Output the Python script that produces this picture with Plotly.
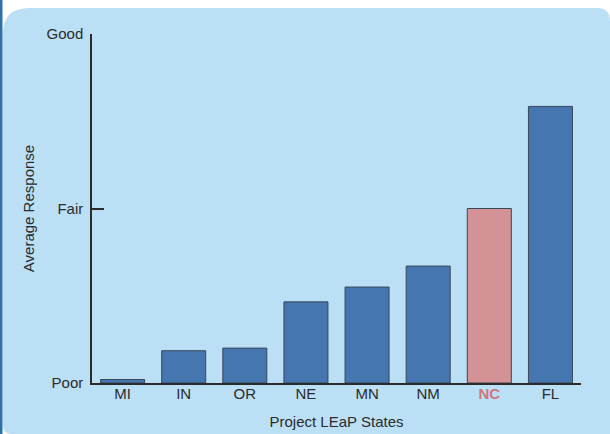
import plotly.graph_objects as go

states = ["MI", "IN", "OR", "NE", "MN", "NM", "NC", "FL"]
values = [0.02, 0.185, 0.2, 0.465, 0.55, 0.67, 1.0, 1.585]
tick_vals = [0, 1, 2]
tick_text = ["Poor", "Fair", "Good"]
highlight = "NC"

W, H = 610, 434
ml, mr, mt, mb = 92, 29, 34, 51
pw, ph = W - ml - mr, H - mt - mb

def px(x):
    return (x - ml) / pw

def py(y):
    return (H - mb - y) / ph

blue = "#4576b0"
pink = "#d39396"
panel = "#bbe0f6"
colors = [pink if s == highlight else blue for s in states]

fig = go.Figure(go.Bar(
    x=list(range(len(states))), y=values,
    marker=dict(color=colors, line=dict(color="#38475a", width=1)),
    width=0.72,
))

# White surround with rounded panel corners (panel colour = paper colour)
x0, y0 = 3, 8
rt, rb = 26, 9
top_white = (
    f"M {px(0)},{py(0)} L {px(W)},{py(0)} L {px(W)},{py(y0 + 13)} "
    f"Q {px(W)},{py(y0)} {px(597)},{py(y0)} "
    f"L {px(x0 + rt)},{py(y0)} "
    f"Q {px(x0)},{py(y0)} {px(x0)},{py(y0 + rt)} "
    f"L {px(x0)},{py(H)} L {px(0)},{py(H)} Z"
)
bottom_white = (
    f"M {px(x0)},{py(H - rb)} Q {px(x0)},{py(H)} {px(x0 + rb)},{py(H)} "
    f"L {px(x0)},{py(H)} Z"
)
shapes = [
    dict(type="path", xref="paper", yref="paper", path=top_white,
         fillcolor="white", line=dict(width=0), layer="below"),
    dict(type="path", xref="paper", yref="paper", path=bottom_white,
         fillcolor="white", line=dict(width=0), layer="below"),
    dict(type="rect", xref="paper", yref="paper", x0=px(0), x1=px(2.5),
         y0=py(0), y1=py(H), fillcolor="#2f6fae", line=dict(width=0), layer="below"),
]

FS = 15
TC = "#2b2b2b"
font = dict(family="Liberation Sans, Arial, sans-serif", size=FS, color=TC)

fig.update_layout(
    width=W, height=H,
    margin=dict(l=ml, r=mr, t=mt, b=mb, pad=0),
    paper_bgcolor=panel,
    plot_bgcolor="rgba(0,0,0,0)",
    font=font,
    showlegend=False,
    shapes=shapes,
    xaxis=dict(
        showgrid=False, zeroline=False, showline=True, linecolor=TC, linewidth=1.5,
        ticks="", ticklen=0,
        tickvals=list(range(len(states))),
        ticktext=[f"<b><span style='color:#d0757c'>{s}</span></b>" if s == highlight else s for s in states],
        title=dict(text="Project LEaP States", standoff=16, font=dict(size=FS, color=TC)),
        tickfont=dict(size=FS, color=TC),
        ticklabelstandoff=-4,
        range=[-0.5, 7.5],
        automargin=False,
    ),
    yaxis=dict(
        range=[0, 2], tickvals=tick_vals, ticktext=tick_text,
        showgrid=False, zeroline=False, showline=True, linecolor=TC, linewidth=1.5,
        ticks="inside", ticklen=12, tickwidth=1.5, tickcolor=TC,
        tickfont=dict(size=FS, color=TC),
        ticklabelstandoff=4,
        title=dict(text="Average Response", standoff=8, font=dict(size=FS, color=TC)),
        automargin=False,
    ),
)

fig.write_html(
    "out.html",
    config={"displayModeBar": False},
    post_script=(
        "document.documentElement.style.margin='0';"
        "document.documentElement.style.overflow='hidden';"
        "document.body.style.margin='0';"
        "document.body.style.overflow='hidden';"
    ),
)
